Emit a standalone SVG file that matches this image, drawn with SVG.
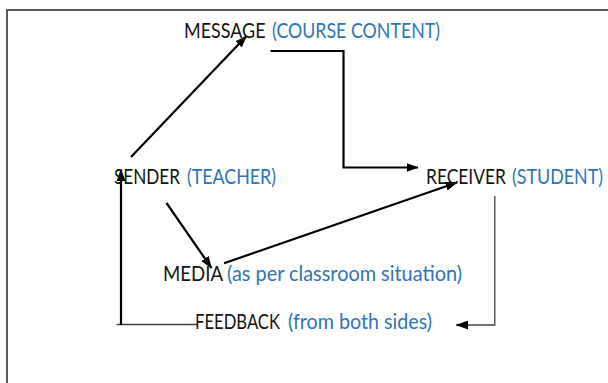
<svg xmlns="http://www.w3.org/2000/svg" width="608" height="383" viewBox="0 0 608 383">
  <style>
    text { font-family: Lato, "Open Sans", "Liberation Sans", sans-serif; font-size: 20.5px; }
    .k { fill: #141414; }
    .b { fill: #2E75B6; }
    .ln { fill: none; stroke: #000; stroke-width: 2.2; }
    .thin { fill: none; stroke: #444; stroke-width: 1.3; }
    .frame { fill: none; stroke: #333; stroke-width: 1.6; }
  </style>
  <defs>
    <marker id="ah" viewBox="0 0 12 9" refX="11.5" refY="4.5" markerWidth="12" markerHeight="9" markerUnits="userSpaceOnUse" orient="auto">
      <path d="M0,0 L12,4.5 L0,9 Z" fill="#000"/>
    </marker>
  </defs>

  <rect x="0" y="0" width="608" height="383" fill="#fff"/>
  <!-- outer frame (right and bottom edges run past the canvas) -->
  <rect class="frame" x="7" y="10" width="620" height="400"/>

  <g id="connectors">
    <!-- sender to message -->
    <line class="ln" x1="131" y1="157" x2="246.5" y2="36" marker-end="url(#ah)"/>
    <!-- message to receiver -->
    <polyline class="ln" points="270.5,51 343.5,51 343.5,167.5 418,167.5" marker-end="url(#ah)"/>
    <!-- sender to media -->
    <line class="ln" x1="166.5" y1="203" x2="211.5" y2="268" marker-end="url(#ah)"/>
    <!-- media to receiver -->
    <line class="ln" x1="224" y1="263.3" x2="457" y2="182.5" marker-end="url(#ah)"/>
    <!-- receiver to feedback -->
    <polyline class="thin" points="494.8,196 494.8,325 462,325"/>
    <line class="ln" x1="468" y1="325" x2="456.5" y2="325" marker-end="url(#ah)"/>
    <!-- feedback back to sender -->
    <line class="thin" x1="116.5" y1="324.5" x2="197" y2="324.5"/>
    <line class="ln" x1="121" y1="325" x2="121" y2="169.5" marker-end="url(#ah)"/>
  </g>

  <g id="message">
    <text class="k" x="184" y="38" textLength="81.5" lengthAdjust="spacingAndGlyphs">MESSAGE</text>
    <text class="b" x="272" y="38" textLength="168" lengthAdjust="spacingAndGlyphs">(COURSE CONTENT)</text>
  </g>
  <g id="sender">
    <text class="k" x="114" y="184" textLength="66" lengthAdjust="spacingAndGlyphs">SENDER</text>
    <text class="b" x="187" y="184" textLength="89" lengthAdjust="spacingAndGlyphs">(TEACHER)</text>
  </g>
  <g id="receiver">
    <text class="k" x="426" y="183.5" textLength="80" lengthAdjust="spacingAndGlyphs">RECEIVER</text>
    <text class="b" x="512" y="183.5" textLength="91" lengthAdjust="spacingAndGlyphs">(STUDENT)</text>
  </g>
  <g id="media">
    <text class="k" x="163" y="281" textLength="60" lengthAdjust="spacingAndGlyphs">MEDIA</text>
    <text class="b" x="227" y="281" textLength="235" lengthAdjust="spacingAndGlyphs">(as per classroom situation)</text>
  </g>
  <g id="feedback">
    <text class="k" x="195" y="328.5" textLength="85" lengthAdjust="spacingAndGlyphs">FEEDBACK</text>
    <text class="b" x="288" y="328.5" textLength="144" lengthAdjust="spacingAndGlyphs">(from both sides)</text>
  </g>
</svg>
